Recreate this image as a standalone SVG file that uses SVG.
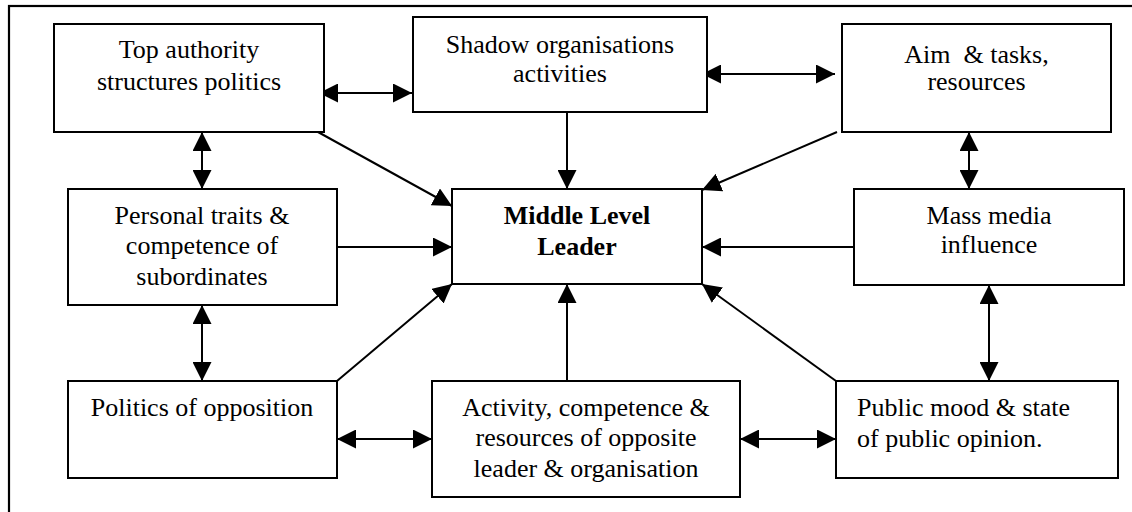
<svg xmlns="http://www.w3.org/2000/svg" width="1132" height="512" viewBox="0 0 1132 512">
<style>
.box{fill:#fff;stroke:#000;stroke-width:2}
.t{font-family:"Liberation Serif","Times New Roman",serif;font-size:26px;fill:#000;text-anchor:middle}
.l{text-anchor:start}
.b{font-weight:bold}
.c{stroke:#000;stroke-width:2;fill:none}
.one{marker-end:url(#ah)}
.two{marker-start:url(#ah);marker-end:url(#ah)}
</style>
<defs>
<marker id="ah" viewBox="0 0 19 19" refX="19" refY="9.5" markerWidth="19" markerHeight="19" markerUnits="userSpaceOnUse" orient="auto-start-reverse">
<path d="M0,0 L19,9.5 L0,19 z" fill="#000"/>
</marker>
</defs>
<rect x="0" y="0" width="1132" height="512" fill="#fff"/>
<rect id="frame" x="9" y="6" width="1200" height="600" fill="none" stroke="#000" stroke-width="2.2"/>

<g id="connectors">
<line class="c two" x1="319" y1="93" x2="412" y2="93"/>
<line class="c two" x1="702" y1="74" x2="835" y2="74"/>
<line class="c one" x1="567" y1="112" x2="567" y2="189"/>
<line class="c one" x1="318" y1="132" x2="452" y2="206"/>
<line class="c one" x1="837" y1="132" x2="702" y2="190"/>
<line class="c two" x1="202" y1="132" x2="202" y2="189"/>
<line class="c one" x1="337" y1="247" x2="452" y2="247"/>
<line class="c one" x1="854" y1="247" x2="702" y2="247"/>
<line class="c two" x1="969" y1="132" x2="969" y2="189"/>
<line class="c two" x1="202" y1="305" x2="202" y2="381"/>
<line class="c one" x1="337" y1="381" x2="452" y2="284"/>
<line class="c one" x1="567" y1="381" x2="567" y2="284"/>
<line class="c one" x1="836" y1="381" x2="702" y2="284"/>
<line class="c two" x1="989" y1="285" x2="989" y2="381"/>
<line class="c two" x1="337" y1="439" x2="432" y2="439"/>
<line class="c two" x1="740" y1="439" x2="836" y2="439"/>
</g>

<g id="top-authority">
<rect class="box" x="54" y="24" width="270" height="108"/>
<text class="t" x="189" y="58">Top authority</text>
<text class="t" x="189" y="90">structures politics</text>
</g>
<g id="shadow">
<rect class="box" x="413" y="17" width="294" height="95"/>
<text class="t" x="560" y="53">Shadow organisations</text>
<text class="t" x="560" y="82">activities</text>
</g>
<g id="aim">
<rect class="box" x="842" y="24" width="269" height="108"/>
<text class="t" x="976.5" y="63" xml:space="preserve">Aim  &amp; tasks,</text>
<text class="t" x="976.5" y="90">resources</text>
</g>
<g id="personal">
<rect class="box" x="68" y="189" width="269" height="116"/>
<text class="t" x="202" y="224">Personal traits &amp;</text>
<text class="t" x="202" y="253.5">competence of</text>
<text class="t" x="202" y="285">subordinates</text>
</g>
<g id="middle">
<rect class="box" x="452" y="189" width="250" height="95"/>
<text class="t b" x="577" y="224">Middle Level</text>
<text class="t b" x="577" y="255">Leader</text>
</g>
<g id="mass-media">
<rect class="box" x="854" y="189" width="270" height="96"/>
<text class="t" x="989" y="224">Mass media</text>
<text class="t" x="989" y="253">influence</text>
</g>
<g id="politics-opposition">
<rect class="box" x="68" y="381" width="269" height="97"/>
<text class="t" x="202" y="416">Politics of opposition</text>
</g>
<g id="activity">
<rect class="box" x="432" y="381" width="308" height="116"/>
<text class="t" x="586" y="416">Activity, competence &amp;</text>
<text class="t" x="586" y="446">resources of opposite</text>
<text class="t" x="586" y="477">leader &amp; organisation</text>
</g>
<g id="public-mood">
<rect class="box" x="836" y="381" width="282" height="97"/>
<text class="t l" x="857" y="416">Public mood &amp; state</text>
<text class="t l" x="857" y="447">of public opinion.</text>
</g>
</svg>
